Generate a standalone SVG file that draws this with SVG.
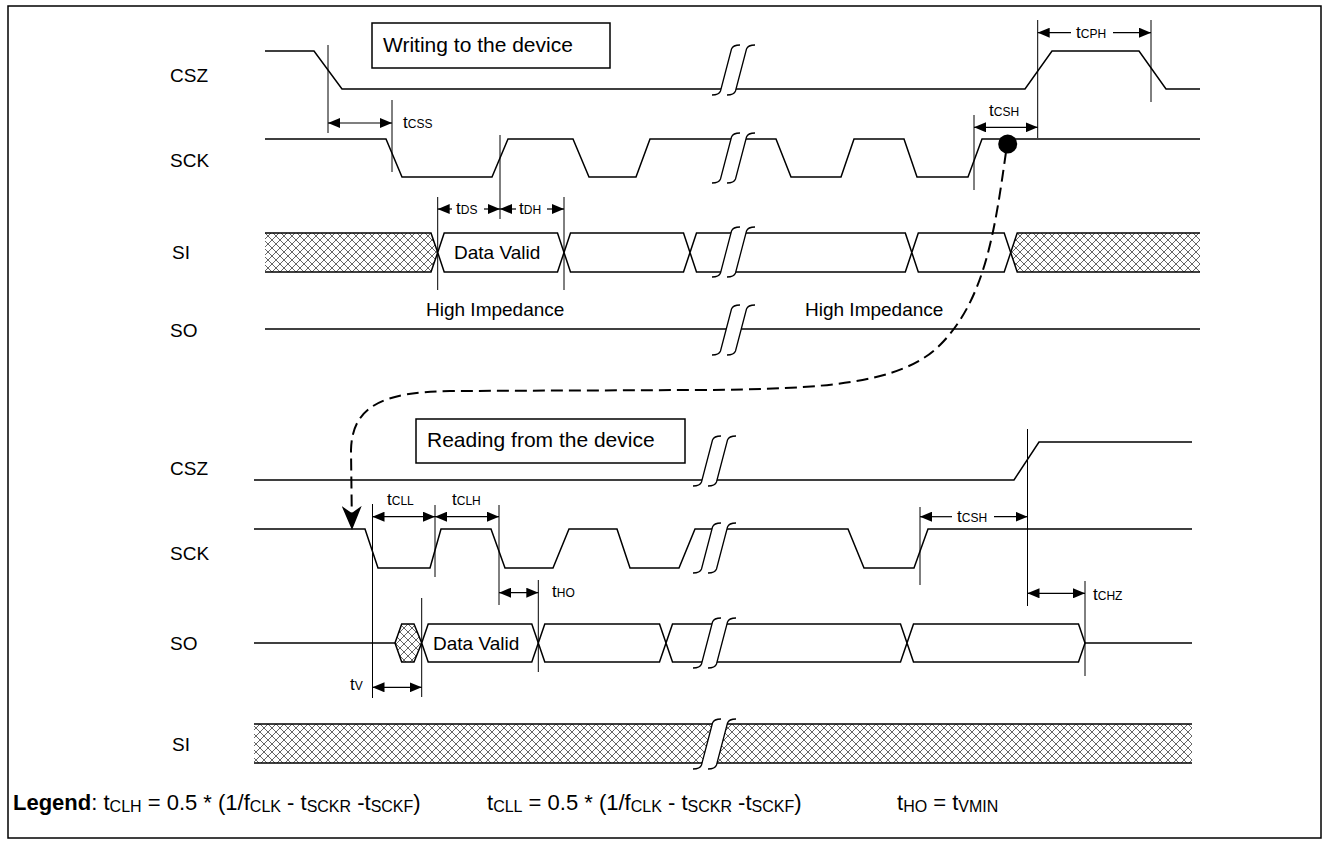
<svg xmlns="http://www.w3.org/2000/svg" width="1329" height="844" viewBox="0 0 1329 844">
<style>
text{font-family:"Liberation Sans",Arial,sans-serif;fill:#000}
.lbl{font-size:19px}
.box{font-size:21px}
.t{font-size:17px}
.s{font-size:12px}
.lg{font-size:22px}
.ls{font-size:16px}
.sig{fill:none;stroke:#000;stroke-width:1.5;stroke-linejoin:miter}
.vl{stroke:#000;stroke-width:1;fill:none}
.ar{stroke:#000;stroke-width:1.2;fill:none;marker-end:url(#ah);marker-start:url(#ah)}
.ae{stroke:#000;stroke-width:1.2;fill:none;marker-end:url(#ah)}
.as{stroke:#000;stroke-width:1.2;fill:none;marker-start:url(#ah)}
.hat{fill:url(#hatch);stroke:none}
.hex{fill:#fff;stroke:#000;stroke-width:1.5}
.frame{fill:#fff;stroke:#000;stroke-width:1.5}
.dash{fill:none;stroke:#000;stroke-width:2;stroke-dasharray:12 6;marker-end:url(#big)}
</style>
<defs>
<pattern id="hatch" width="8" height="8" patternUnits="userSpaceOnUse">
<rect width="8" height="8" fill="#fff"/>
<path d="M0,0 L8,8 M8,0 L0,8" stroke="#555" stroke-width="0.9"/>
</pattern>
<marker id="ah" viewBox="0 0 12 10" refX="12" refY="5" markerWidth="12" markerHeight="10" markerUnits="userSpaceOnUse" orient="auto-start-reverse">
<path d="M0,0 L12,5 L0,10 Z" fill="#000"/>
</marker>
<marker id="big" viewBox="0 0 24 20" refX="24" refY="10" markerWidth="24" markerHeight="20" markerUnits="userSpaceOnUse" orient="auto">
<path d="M0,0 L24,10 L0,20 L7,10 Z" fill="#000"/>
</marker>
<g id="brk">
<path d="M8.5,46 L19.5,4 L34.5,4 L23.5,46 Z" fill="#fff"/>
<path d="M0,50 Q7,50 8.5,46 L19.5,4 Q21,0 28,0 M15,50 Q22,50 23.5,46 L34.5,4 Q36,0 43,0" fill="none" stroke="#000" stroke-width="1.3"/>
</g>
</defs>

<rect x="8" y="6" width="1313" height="832" class="frame"/>

<!-- ===== Writing section ===== -->
<g id="write-title">
<rect x="372" y="23" width="238" height="45" fill="#fff" stroke="#000" stroke-width="1.5"/>
<text class="box" x="383" y="52">Writing to the device</text>
</g>

<g id="w-csz">
<text class="lbl" x="170" y="82">CSZ</text>
<path class="sig" d="M265,51 L314,51 L342,89 L1025,89 L1052,51 L1139,51 L1166,89 L1200,89"/>
<use href="#brk" x="712" y="45"/>
</g>

<g id="w-sck">
<text class="lbl" x="170" y="167">SCK</text>
<path class="sig" d="M265,139 L386,139 L402,177 L492,177 L508,139 L573,139 L589,177 L636,177 L650,139 L776,139 L791,177 L841,177 L854,139 L904,139 L917,177 L968,177 L982,139 L1200,139"/>
<use href="#brk" x="712" y="133"/>
</g>

<g id="w-si">
<text class="lbl" x="172" y="259">SI</text>
<path class="hat" d="M265,233 L431,233 L437.7,252.5 L431,272 L265,272 Z"/>
<path class="sig" d="M265,233 L431,233 L437.7,252.5 L431,272 L265,272"/>
<path class="hex" d="M437.7,252.5 L444.2,233 L557.5,233 L564,252.5 L557.5,272 L444.2,272 Z"/>
<path class="hex" d="M564,252.5 L570.5,233 L683.5,233 L690,252.5 L683.5,272 L570.5,272 Z"/>
<path class="hex" d="M690,252.5 L696.5,233 L905.3,233 L911.8,252.5 L905.3,272 L696.5,272 Z"/>
<path class="hex" d="M911.8,252.5 L918.3,233 L1004.2,233 L1010.7,252.5 L1004.2,272 L918.3,272 Z"/>
<path class="hat" d="M1010.7,252.5 L1017.2,233 L1200,233 L1200,272 L1017.2,272 Z"/>
<path class="sig" d="M1200,233 L1017.2,233 L1010.7,252.5 L1017.2,272 L1200,272"/>
<text class="lbl" x="454" y="259">Data Valid</text>
<use href="#brk" x="712" y="227"/>
</g>

<g id="w-so">
<text class="lbl" x="170" y="337">SO</text>
<path class="sig" d="M265,329 L1200,329"/>
<text class="lbl" x="426" y="316">High Impedance</text>
<text class="lbl" x="805" y="316">High Impedance</text>
<use href="#brk" x="712" y="305"/>
</g>

<!-- ===== Reading section ===== -->
<g id="read-title">
<rect x="416" y="419" width="269" height="44" fill="#fff" stroke="#000" stroke-width="1.5"/>
<text class="box" x="427" y="447">Reading from the device</text>
</g>

<g id="r-csz">
<text class="lbl" x="170" y="475">CSZ</text>
<path class="sig" d="M254,480 L1014,480 L1039,442 L1192,442"/>
<use href="#brk" x="693" y="436"/>
</g>

<g id="r-sck">
<text class="lbl" x="170" y="560">SCK</text>
<path class="sig" d="M254,529 L365,529 L378,568 L430,568 L441,529 L491,529 L505,568 L553,568 L569,529 L617,529 L630,568 L679,568 L695,529 L848,529 L864,568 L914,568 L928,529 L1192,529"/>
<use href="#brk" x="693" y="523"/>
</g>

<g id="r-so">
<text class="lbl" x="170" y="650">SO</text>
<path class="sig" d="M254,643 L395,643"/>
<path class="hat" d="M395,643 L401.7,624 L414,624 L421.7,643 L414,662 L401.7,662 Z"/>
<path class="sig" d="M395,643 L401.7,624 L414,624 L421.7,643 L414,662 L401.7,662 Z"/>
<path class="hex" d="M421.7,643 L428.2,624 L531.8,624 L538.3,643 L531.8,662 L428.2,662 Z"/>
<path class="hex" d="M538.3,643 L544.8,624 L659.5,624 L666,643 L659.5,662 L544.8,662 Z"/>
<path class="hex" d="M666,643 L672.5,624 L900.5,624 L907,643 L900.5,662 L672.5,662 Z"/>
<path class="hex" d="M907,643 L913.5,624 L1078.5,624 L1085,643 L1078.5,662 L913.5,662 Z"/>
<path class="sig" d="M1085,643 L1192,643"/>
<text class="lbl" x="433" y="650">Data Valid</text>
<use href="#brk" x="693" y="618"/>
</g>

<g id="r-si">
<text class="lbl" x="172" y="751">SI</text>
<rect class="hat" x="254" y="724" width="938" height="39"/>
<path class="sig" d="M254,724 L1192,724 M254,763 L1192,763"/>
<use href="#brk" x="693" y="719"/>
</g>

<!-- ===== Timing annotations ===== -->
<g id="timing">
<path class="vl" d="M328,45 V133 M392,100 V172 M500,135 V219 M437.7,197 V290 M564,197 V290 M974,115 V190 M1037.7,20 V138 M1151,20 V102"/>
<path class="ar" d="M328,123 H392"/>
<text class="t" x="403" y="128">t<tspan class="s">CSS</tspan></text>
<path class="as" d="M437.7,209 H452"/>
<path class="ae" d="M484,209 H500"/>
<text class="t" x="456" y="214">t<tspan class="s">DS</tspan></text>
<path class="as" d="M500,209 H516"/>
<path class="ae" d="M547,209 H564"/>
<text class="t" x="519" y="214">t<tspan class="s">DH</tspan></text>
<path class="as" d="M1037.7,32.7 H1071"/>
<path class="ae" d="M1113,32.7 H1151"/>
<text class="t" x="1076" y="38">t<tspan class="s">CPH</tspan></text>
<path class="ar" d="M974,127.3 H1037.7"/>
<text class="t" x="989" y="116">t<tspan class="s">CSH</tspan></text>

<path class="vl" d="M372.5,504 V698 M435,505 V577 M499,505 V605 M538.3,580 V672 M421.7,598 V697 M920,507 V585 M1027.5,429 V606 M1085,581 V676"/>
<path class="ar" d="M372.5,516.7 H435"/>
<text class="t" x="387" y="505">t<tspan class="s">CLL</tspan></text>
<path class="ar" d="M435,516.7 H499"/>
<text class="t" x="452" y="505">t<tspan class="s">CLH</tspan></text>
<path class="ar" d="M499,592.7 H538.3"/>
<text class="t" x="552" y="597">t<tspan class="s">HO</tspan></text>
<path class="as" d="M920,516.7 H952"/>
<path class="ae" d="M994,516.7 H1027.5"/>
<text class="t" x="957" y="522">t<tspan class="s">CSH</tspan></text>
<path class="ar" d="M1027.5,593.3 H1085"/>
<text class="t" x="1093" y="600">t<tspan class="s">CHZ</tspan></text>
<path class="ar" d="M372.5,687.3 H421.7"/>
<text class="t" x="350" y="690">t<tspan class="s">V</tspan></text>
</g>

<!-- ===== Connector ===== -->
<g id="connectors">
<circle cx="1007.7" cy="144" r="9.5" fill="#000"/>
<path class="dash" d="M1006,152 C995,230 985,300 940,345 C900,385 820,389 700,390 L450,391 C385,392 352,405 351,450 L352,530"/>
</g>

<!-- ===== Legend ===== -->
<g id="legend">
<text class="lg" x="13" y="810"><tspan font-weight="bold">Legend</tspan>: t<tspan class="ls" dy="2">CLH</tspan><tspan dy="-2"> = 0.5 * (1/f</tspan><tspan class="ls" dy="2">CLK</tspan><tspan dy="-2"> - t</tspan><tspan class="ls" dy="2">SCKR</tspan><tspan dy="-2"> -t</tspan><tspan class="ls" dy="2">SCKF</tspan><tspan dy="-2">)</tspan></text>
<text class="lg" x="487" y="810">t<tspan class="ls" dy="2">CLL</tspan><tspan dy="-2"> = 0.5 * (1/f</tspan><tspan class="ls" dy="2">CLK</tspan><tspan dy="-2"> - t</tspan><tspan class="ls" dy="2">SCKR</tspan><tspan dy="-2"> -t</tspan><tspan class="ls" dy="2">SCKF</tspan><tspan dy="-2">)</tspan></text>
<text class="lg" x="897" y="810">t<tspan class="ls" dy="2">HO</tspan><tspan dy="-2"> = t</tspan><tspan class="ls" dy="2">VMIN</tspan></text>
</g>
</svg>
